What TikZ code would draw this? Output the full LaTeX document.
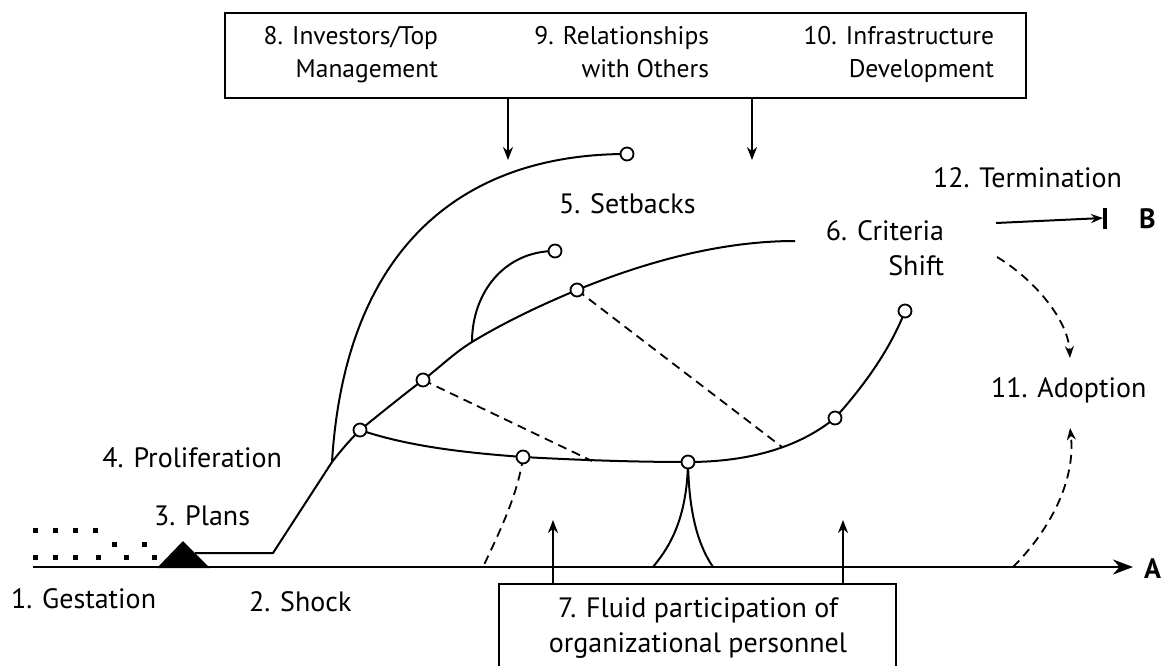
\documentclass[tikz,border=0pt]{standalone}
\usepackage{fontspec}
\setmainfont{PT Sans}
\usetikzlibrary{arrows.meta}
\begin{document}
\begin{tikzpicture}[x=1pt,y=-1pt, line width=2pt,
  lbl/.style={font=\fontsize{28}{32}\selectfont, inner sep=0pt},
  tlbl/.style={font=\fontsize{25.5}{30}\selectfont, inner sep=0pt},
  bold/.style={font=\fontsize{28}{32}\selectfont\bfseries, inner sep=0pt},
  pt/.style={circle, draw, fill=white, minimum size=13pt, inner sep=0pt, line width=1.8pt},
  dsh/.style={dash pattern=on 9pt off 6pt, line width=1.8pt},
  box/.style={draw, line width=2pt, inner sep=0pt},
  arr/.style={-{Stealth[length=13pt,width=10pt]}, line width=2pt},
  darr/.style={dsh, -{Stealth[length=12pt,width=9pt]}}]
\useasboundingbox (0,0) rectangle (1167,666);
\clip (0,0) rectangle (1167,666);

% boxes
\node[box, anchor=north west, minimum width=801pt, minimum height=85pt] (topbox) at (224,12) {};
\node[box, anchor=north west, minimum width=397pt, minimum height=100pt] (botbox) at (498,583) {};

% top labels
\node[tlbl, anchor=base east] (l8a) at (439,45) {8. Investors/Top};
\node[tlbl, anchor=base east] (l8b) at (439,78) {Management};
\node[tlbl, anchor=base east] (l9a) at (710,45) {9. Relationships};
\node[tlbl, anchor=base east] (l9b) at (710,78) {with Others};
\node[tlbl, anchor=base east] (l10a) at (995,45) {10. Infrastructure};
\node[tlbl, anchor=base east] (l10b) at (995,78) {Development};

% other labels
\node[lbl, anchor=base west] (l12) at (932,187) {12. Termination};
\node[lbl, anchor=base west] (l5) at (558,213) {5. Setbacks};
\node[lbl, anchor=base east] (l6a) at (945,240) {6. Criteria};
\node[lbl, anchor=base east] (l6b) at (945,275) {Shift};
\node[lbl, anchor=base west] (l11) at (990,397) {11. Adoption};
\node[lbl, anchor=base east] (l4) at (283,467) {4. Proliferation};
\node[lbl, anchor=base west] (l3) at (153,525) {3. Plans};
\node[lbl, anchor=base west] (l1) at (10,608) {1. Gestation};
\node[lbl, anchor=base west] (l2) at (248,611) {2. Shock};
\node[lbl, anchor=base] (l7a) at (698,617) {7. Fluid participation of};
\node[lbl, anchor=base] (l7b) at (698,652) {organizational personnel};
\node[bold, anchor=base west] (lA) at (1143,578) {A};
\node[bold, anchor=base west] (lB) at (1138,228) {B};

% gestation dots
\foreach \x/\y in {35/530,55/530,75/530,95/530,114/544,144/544,35/557,55/557,75/557,98/557,126/557,154/557}
  \fill (\x-2.5,\y-2.5) rectangle +(5,5);

% axis
\coordinate (a0) at (33,567);
\coordinate (aend) at (1133,567);
\draw[line width=2.8pt, -{Stealth[length=20pt,width=15pt]}] (a0) -- (aend);

% plans triangle
\fill (157,568) -- (183,541) -- (210,568) -- cycle;

% coordinates
\coordinate (p0) at (195,553);
\coordinate (p1) at (273,553);
\coordinate (p2) at (332,462);
\coordinate (n1) at (360,430);
\coordinate (n2) at (423,380);
\coordinate (s1) at (472,342);
\coordinate (n3) at (577,290);
\coordinate (e6) at (795,241);
\coordinate (n4) at (523,457);
\coordinate (d1) at (592,461);
\coordinate (n5) at (688,462);
\coordinate (d2) at (782,447);
\coordinate (n6) at (835,418);
\coordinate (n7) at (905,311);
\coordinate (n8) at (627,154);
\coordinate (n9) at (555,251);
\coordinate (d3) at (483,567);
\coordinate (c1) at (653,567);
\coordinate (c2) at (713,567);

% main upper curve
\draw (p0) -- (p1) -- (p2) .. controls (343,448) and (350,440) .. (n1)
  .. controls (381,413) and (402,396) .. (n2)
  .. controls (439,368) and (454,353) .. (s1)
  .. controls (505,322) and (541,305) .. (n3)
  .. controls (645,262) and (721,241) .. (e6);
% big arc
\draw (p2) .. controls (345,250) and (460,154) .. (n8);
% setback
\draw (s1) .. controls (472,292) and (505,251) .. (n9);
% lower curve
\draw (n1) .. controls (410,447) and (469,453) .. (n4)
  .. controls (578,460) and (633,462) .. (n5)
  .. controls (743,462) and (796,450) .. (n6)
  .. controls (863,387) and (890,350) .. (n7);
% dashed links
\draw[dsh] (n2) -- (d1);
\draw[dsh] (n3) -- (d2);
\draw[dsh] (n4) .. controls (518,495) and (498,535) .. (d3);
% cusp
\draw (n5) .. controls (687,525) and (665,552) .. (c1);
\draw (n5) .. controls (689,525) and (703,552) .. (c2);

% circles
\foreach \n in {n1,n2,n3,n4,n5,n6,n7,n8,n9}
  \node[pt] (o\n) at (\n) {};

% arrows from boxes
\coordinate (a8) at (508,160);
\coordinate (a9) at (752,160);
\draw[arr] (topbox.south -| a8) -- (a8);
\draw[arr] (topbox.south -| a9) -- (a9);
\coordinate (a7l) at (553,520);
\coordinate (a7r) at (843,520);
\draw[arr] (botbox.north -| a7l) -- (a7l);
\draw[arr] (botbox.north -| a7r) -- (a7r);

% adoption arrows
\coordinate (ad1) at (997,257);
\coordinate (ad2) at (1070,358);
\draw[darr] (ad1) .. controls (1035,280) and (1068,320) .. (ad2);
\coordinate (ad3) at (1013,567);
\coordinate (ad4) at (1070,428);
\draw[darr] (ad3) .. controls (1050,530) and (1076,480) .. (ad4);

% termination
\coordinate (t1) at (996,223);
\coordinate (t2) at (1103,218);
\coordinate (b1) at (1105,208);
\coordinate (b2) at (1105,229);
\draw[-{Stealth[length=12pt,width=9pt]}] (t1) -- (t2);
\draw[line width=3.5pt] (b1) -- (b2);
\end{tikzpicture}
\end{document}
